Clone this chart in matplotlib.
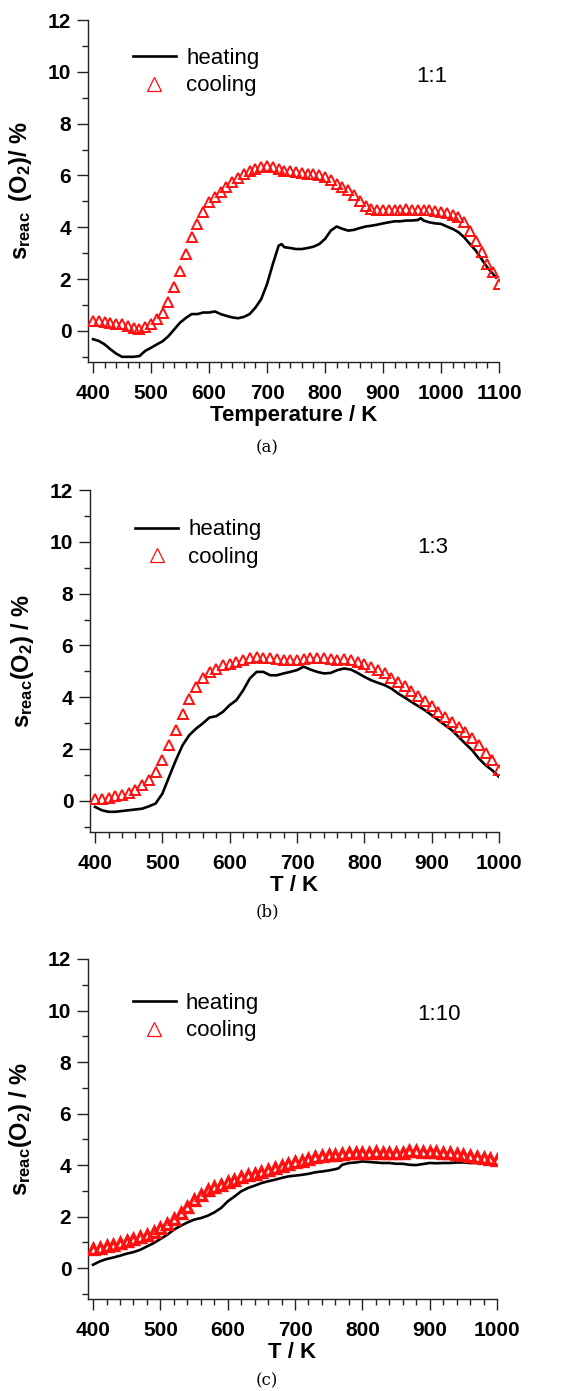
import numpy as np
import matplotlib
matplotlib.use("Agg")
import matplotlib.pyplot as plt
from matplotlib.ticker import MultipleLocator

plt.rcParams['font.family'] = ['Liberation Sans', 'DejaVu Sans']
plt.rcParams['mathtext.fontset'] = 'custom'
plt.rcParams['mathtext.rm'] = 'Liberation Sans'
plt.rcParams['mathtext.bf'] = 'Liberation Sans:bold'
plt.rcParams['mathtext.it'] = 'Liberation Sans:italic'

# ---------------- data (a) 1:1 ----------------
a_heat_T = [400, 410, 420, 430, 440, 450, 460, 470, 480, 490, 500, 510, 520, 530, 540, 550, 560, 570,
            580, 590, 600, 610, 620, 630, 640, 650, 660, 670, 680, 690, 700, 710, 720, 725, 730, 740,
            750, 760, 770, 780, 790, 800, 810, 820, 830, 840, 850, 860, 870, 880, 890, 900, 910, 920,
            930, 940, 950, 960, 965, 970, 980, 990, 1000, 1010, 1020, 1030, 1040, 1050, 1060, 1070,
            1080, 1090, 1095]
a_heat_s = [-0.32, -0.39, -0.52, -0.71, -0.88, -1.0, -1.0, -1.0, -0.97, -0.77, -0.65, -0.52, -0.4,
            -0.2, 0.06, 0.32, 0.5, 0.65, 0.65, 0.71, 0.71, 0.75, 0.65, 0.58, 0.52, 0.49, 0.54, 0.65,
            0.9, 1.23, 1.81, 2.58, 3.29, 3.35, 3.23, 3.2, 3.16, 3.16, 3.2, 3.25, 3.35, 3.55, 3.87, 4.03,
            3.94, 3.87, 3.9, 3.97, 4.03, 4.06, 4.1, 4.15, 4.19, 4.23, 4.23, 4.26, 4.26, 4.28, 4.35, 4.26,
            4.19, 4.15, 4.13, 4.03, 3.94, 3.81, 3.61, 3.35, 3.1, 2.77, 2.45, 2.19, 2.06]
a_cool_T = list(range(400, 1101, 10))
a_cool_s = [0.39, 0.39, 0.36, 0.32, 0.28, 0.26, 0.19, 0.13, 0.09, 0.15, 0.26, 0.45, 0.71, 1.1, 1.68,
            2.32, 2.97, 3.61, 4.13, 4.58, 4.97, 5.16, 5.35, 5.55, 5.74, 5.91, 6.04, 6.17, 6.26, 6.32,
            6.36, 6.32, 6.26, 6.19, 6.17, 6.13, 6.1, 6.06, 6.04, 6.0, 5.94, 5.81, 5.68, 5.55, 5.42,
            5.23, 5.03, 4.84, 4.71, 4.67, 4.67, 4.67, 4.67, 4.67, 4.71, 4.67, 4.67, 4.67, 4.65, 4.62,
            4.58, 4.54, 4.49, 4.39, 4.19, 3.87, 3.48, 3.03, 2.58, 2.26, 1.81]

# ---------------- data (b) 1:3 ----------------
b_heat_T = [400, 410, 420, 430, 440, 450, 460, 470, 480, 490, 495, 500, 510, 520, 530, 540, 550, 560,
            570, 580, 590, 600, 610, 620, 630, 640, 650, 660, 670, 680, 690, 700, 710, 720, 730, 740,
            750, 760, 770, 780, 790, 800, 810, 820, 830, 840, 850, 860, 870, 880, 890, 900, 910, 920,
            930, 940, 950, 960, 970, 980, 990, 1000]
b_heat_s = [-0.23, -0.36, -0.42, -0.42, -0.39, -0.36, -0.33, -0.3, -0.21, -0.1, 0.09, 0.28, 0.93,
            1.57, 2.15, 2.54, 2.79, 2.99, 3.22, 3.27, 3.44, 3.7, 3.89, 4.27, 4.73, 4.98, 4.98, 4.85,
            4.85, 4.92, 4.98, 5.05, 5.18, 5.07, 4.98, 4.92, 4.94, 5.05, 5.11, 5.07, 4.94, 4.79, 4.66,
            4.56, 4.47, 4.34, 4.15, 3.99, 3.82, 3.66, 3.5, 3.31, 3.12, 2.92, 2.73, 2.47, 2.21, 1.96,
            1.64, 1.38, 1.18, 0.93]
b_cool_T = list(range(400, 1001, 10))
b_cool_s = [0.09, 0.09, 0.13, 0.18, 0.22, 0.31, 0.44, 0.61, 0.8, 1.12, 1.57, 2.15, 2.73, 3.37, 3.95,
            4.4, 4.73, 4.98, 5.11, 5.24, 5.3, 5.37, 5.43, 5.5, 5.54, 5.5, 5.5, 5.46, 5.43, 5.43, 5.43,
            5.46, 5.5, 5.5, 5.5, 5.46, 5.43, 5.46, 5.43, 5.37, 5.28, 5.18, 5.05, 4.92, 4.76, 4.6,
            4.43, 4.25, 4.04, 3.86, 3.66, 3.44, 3.24, 3.05, 2.86, 2.67, 2.41, 2.15, 1.85, 1.57, 1.18]

# ---------------- data (c) 1:10 ----------------
c_heat_T = [400, 410, 420, 430, 440, 450, 460, 470, 480, 490, 500, 510, 520, 530, 540, 550, 560, 570,
            580, 590, 600, 610, 620, 630, 640, 650, 660, 670, 680, 690, 700, 710, 720, 730, 740, 750,
            760, 765, 770, 780, 790, 800, 810, 820, 830, 840, 850, 860, 870, 880, 890, 900, 910, 920,
            930, 940, 950, 960, 970, 980]
c_heat_s = [0.13, 0.26, 0.35, 0.41, 0.48, 0.56, 0.62, 0.71, 0.84, 0.97, 1.13, 1.29, 1.49, 1.64, 1.77,
            1.88, 1.94, 2.03, 2.16, 2.33, 2.59, 2.78, 2.98, 3.11, 3.2, 3.3, 3.37, 3.43, 3.5, 3.56, 3.59,
            3.62, 3.66, 3.72, 3.75, 3.79, 3.84, 3.88, 4.01, 4.08, 4.1, 4.14, 4.12, 4.1, 4.08, 4.08,
            4.05, 4.05, 4.01, 4.0, 4.04, 4.08, 4.07, 4.08, 4.08, 4.1, 4.1, 4.08, 4.08, 4.05]
c_cool_T = list(range(400, 1001, 10))
c_cool_s = [0.74, 0.78, 0.84, 0.91, 0.97, 1.05, 1.13, 1.2, 1.29, 1.42, 1.55, 1.72, 1.9, 2.14, 2.39,
            2.65, 2.85, 3.02, 3.15, 3.24, 3.34, 3.43, 3.52, 3.6, 3.66, 3.74, 3.82, 3.88, 3.97, 4.04,
            4.1, 4.17, 4.23, 4.3, 4.34, 4.38, 4.4, 4.44, 4.47, 4.47, 4.45, 4.47, 4.49, 4.48, 4.47,
            4.47, 4.48, 4.53, 4.53, 4.52, 4.5, 4.49, 4.47, 4.46, 4.44, 4.41, 4.36, 4.32, 4.27, 4.22, 4.18]

panels = [
    dict(ht=a_heat_T, hs=a_heat_s, ct=a_cool_T, cs=a_cool_s, xmax=1100, ratio='1:1',
         ylabel=r'$\mathbf{s_{reac}\;\;(O_2)/\ \%}$', xlabel='Temperature / K', cap='(a)',
         rect=[88/561, 1-362/1391, 411/561, 342/1391], leg=(0.109, 0.848), rat=(0.837, 0.836),
         capy=1-448/1391, ms=7.5, mew=1.4),
    dict(ht=b_heat_T, hs=b_heat_s, ct=b_cool_T, cs=b_cool_s, xmax=1000, ratio='1:3',
         ylabel=r'$\mathbf{s_{reac}(O_2)\ /\ \%}$', xlabel='T / K', cap='(b)',
         rect=[90/561, 1-832/1391, 409/561, 342/1391], leg=(0.11, 0.843), rat=(0.839, 0.833),
         capy=1-912/1391, ms=7.5, mew=1.4),
    dict(ht=c_heat_T, hs=c_heat_s, ct=c_cool_T, cs=c_cool_s, xmax=1000, ratio='1:10',
         ylabel=r'$\mathbf{s_{reac}(O_2)\ /\ \%}$', xlabel='T / K', cap='(c)',
         rect=[88/561, 1-1299/1391, 409/561, 340/1391], leg=(0.109, 0.829), rat=(0.858, 0.838),
         capy=1-1381/1391, ms=7.5, mew=2.4),
]

fig = plt.figure(figsize=(5.61, 13.91), dpi=100)

for p in panels:
    ax = fig.add_axes(p['rect'])
    span = p['xmax'] - 400
    ax.set_xlim(400 - span * 0.0125, p['xmax'])
    ax.set_ylim(-1.2, 12)
    hl, = ax.plot(p['ht'], p['hs'], color='black', lw=1.9, label='heating', zorder=2)
    cl, = ax.plot(p['ct'], p['cs'], ls='none', marker='^', mfc='none', mec='#ff1010',
                  ms=p['ms'], mew=p['mew'], label='cooling', zorder=3)
    for s in ['top', 'right']:
        ax.spines[s].set_visible(False)
    for s in ['left', 'bottom']:
        ax.spines[s].set_color('#222222')
        ax.spines[s].set_linewidth(1.0)
    ax.xaxis.set_major_locator(MultipleLocator(100))
    ax.xaxis.set_minor_locator(MultipleLocator(20))
    ax.yaxis.set_major_locator(MultipleLocator(2))
    ax.yaxis.set_minor_locator(MultipleLocator(1))
    ax.tick_params(which='major', length=8, width=1.0, color='#222222', labelsize=15, pad=4)
    ax.tick_params(which='minor', length=4.5, width=1.0, color='#222222')
    ax.tick_params(axis='x', which='major', pad=8)
    for lab in ax.get_xticklabels() + ax.get_yticklabels():
        lab.set_fontweight('bold')
    ax.set_xlabel(p['xlabel'], fontsize=16, fontweight='bold', labelpad=1)
    ax.set_ylabel(p['ylabel'], fontsize=17, labelpad=10)
    leg = ax.legend(handles=[hl, cl], loc='center left', bbox_to_anchor=p['leg'],
                    frameon=False, fontsize=16, handlelength=1.95, handletextpad=0.45,
                    labelspacing=0.3, borderpad=0, borderaxespad=0, numpoints=1,
                    markerscale=1.3)
    for h in leg.legend_handles:
        if h.get_marker() == '^':
            h.set_markeredgewidth(0.9)
    ax.text(p['rat'][0], p['rat'][1], p['ratio'], transform=ax.transAxes, fontsize=16,
            ha='center', va='center')
    fig.text(0.476, p['capy'], p['cap'], fontsize=12, family='DejaVu Serif',
             ha='center', va='center')

fig.savefig('out.png', dpi=100)
